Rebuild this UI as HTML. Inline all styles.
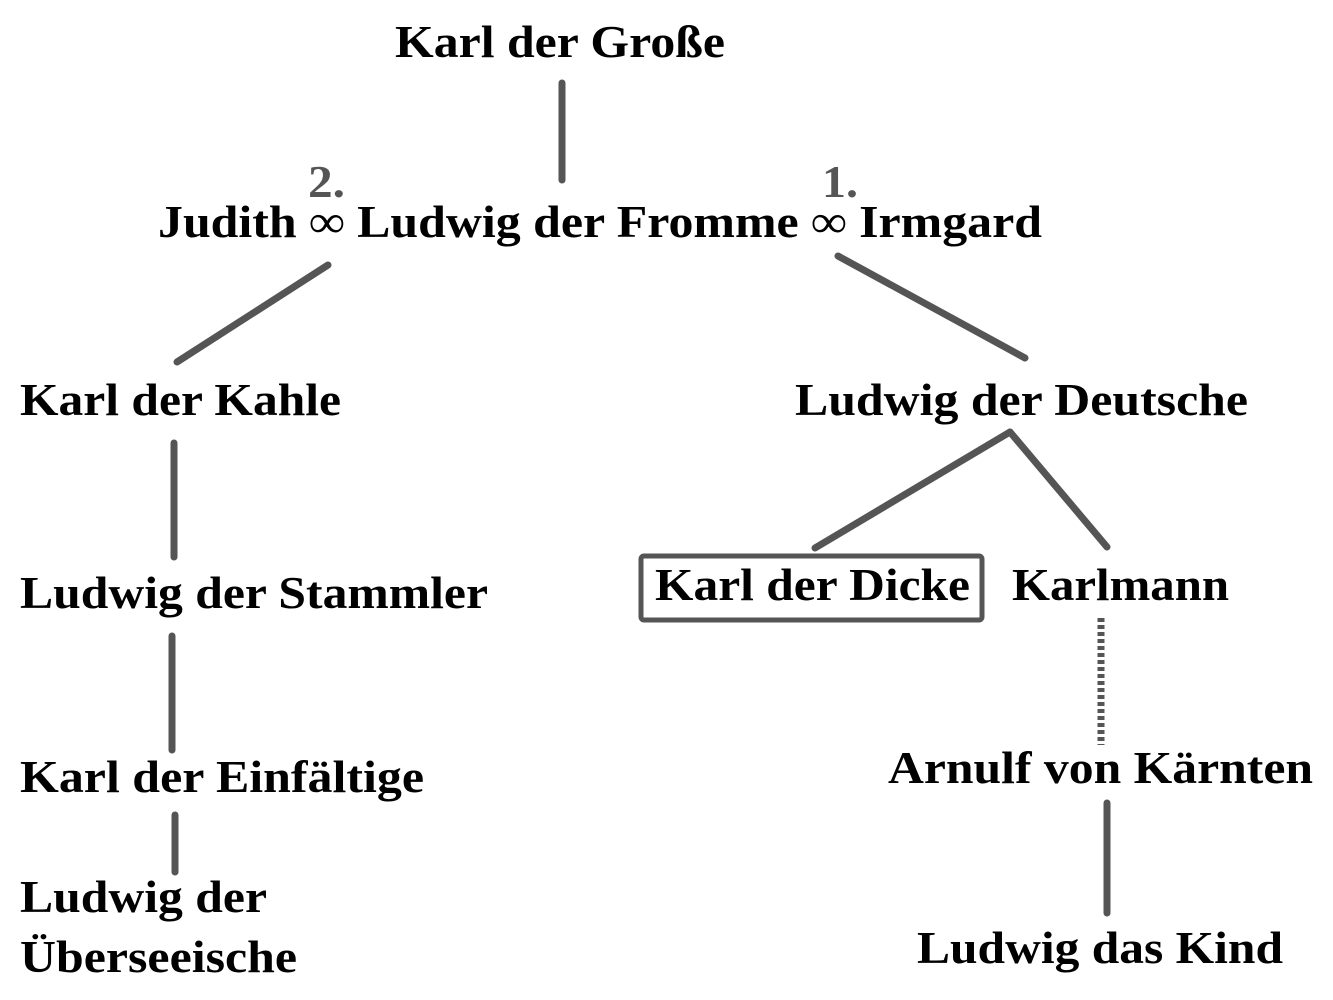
<!DOCTYPE html>
<html><head><meta charset="utf-8"><style>body{margin:0;background:#fff}svg{display:block}text{font-family:"Liberation Serif","Times New Roman",serif;font-weight:bold}</style></head><body>
<svg width="1333" height="1000" xmlns="http://www.w3.org/2000/svg">
<g stroke="#555" stroke-width="7" stroke-linecap="round" fill="none">
<line x1="562" y1="83" x2="562" y2="180"/>
<line x1="328" y1="265" x2="177" y2="362"/>
<line x1="838" y1="256" x2="1025" y2="358"/>
<line x1="174" y1="443" x2="174" y2="557"/>
<line x1="172" y1="636" x2="172" y2="750"/>
<line x1="175" y1="815" x2="175" y2="872"/>
<line x1="1010" y1="432" x2="815" y2="548"/>
<line x1="1010" y1="432" x2="1107" y2="547"/>
<line x1="1107" y1="803" x2="1107" y2="913"/>
<line x1="1101" y1="618" x2="1101" y2="745" stroke-dasharray="4 3" stroke-linecap="butt"/>
<rect x="641" y="556" width="341" height="64" rx="3" stroke-width="5"/>
</g>
<g font-size="46" fill="#000">
<text x="395" y="57" textLength="330" lengthAdjust="spacingAndGlyphs">Karl der Große</text>
<text x="158" y="237" textLength="884" lengthAdjust="spacingAndGlyphs">Judith ∞ Ludwig der Fromme ∞ Irmgard</text>
<text x="20" y="415" textLength="321" lengthAdjust="spacingAndGlyphs">Karl der Kahle</text>
<text x="795" y="415" textLength="453" lengthAdjust="spacingAndGlyphs">Ludwig der Deutsche</text>
<text x="20" y="608" textLength="468" lengthAdjust="spacingAndGlyphs">Ludwig der Stammler</text>
<text x="655" y="600" textLength="315" lengthAdjust="spacingAndGlyphs">Karl der Dicke</text>
<text x="1012" y="600" textLength="217" lengthAdjust="spacingAndGlyphs">Karlmann</text>
<text x="20" y="792" textLength="404" lengthAdjust="spacingAndGlyphs">Karl der Einfältige</text>
<text x="888" y="783" textLength="425" lengthAdjust="spacingAndGlyphs">Arnulf von Kärnten</text>
<text x="20" y="912" textLength="247" lengthAdjust="spacingAndGlyphs">Ludwig der</text>
<text x="20" y="972" textLength="277" lengthAdjust="spacingAndGlyphs">Überseeische</text>
<text x="917" y="963" textLength="366" lengthAdjust="spacingAndGlyphs">Ludwig das Kind</text>
</g>
<g font-size="46" fill="#555">
<text x="308" y="197" textLength="37" lengthAdjust="spacingAndGlyphs">2.</text>
<text x="822" y="197" textLength="36" lengthAdjust="spacingAndGlyphs">1.</text>
</g>
</svg>
</body></html>
